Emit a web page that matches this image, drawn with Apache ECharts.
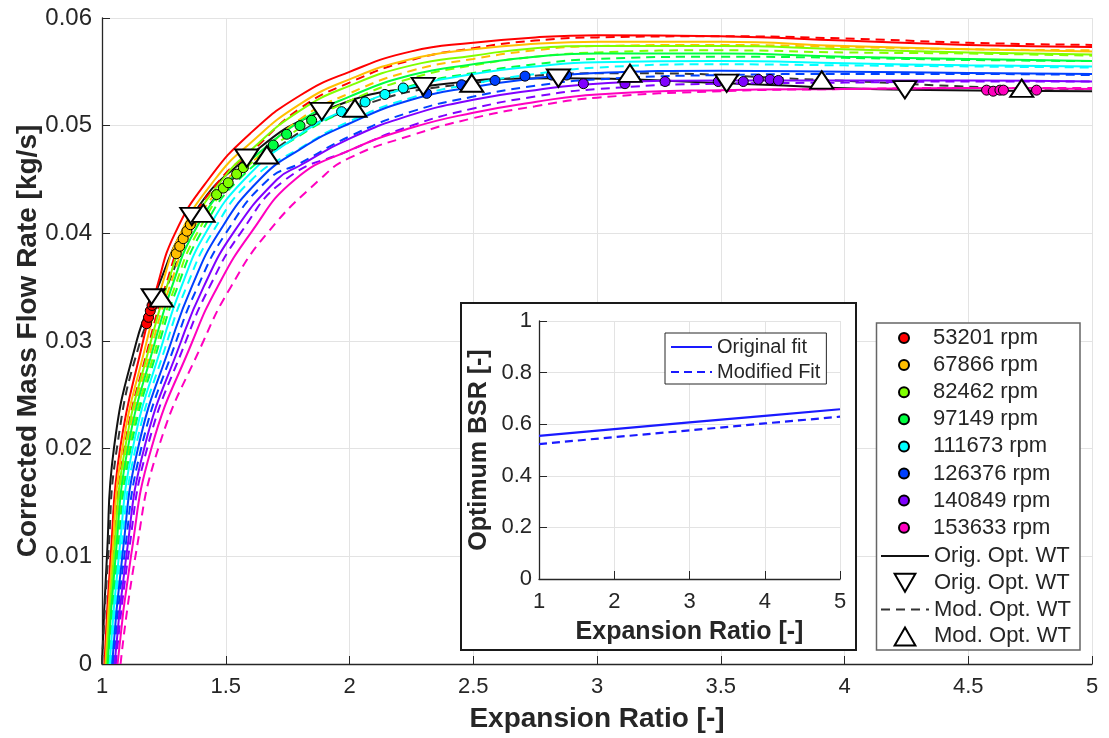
<!DOCTYPE html>
<html><head><meta charset="utf-8">
<script src="https://cdn.jsdelivr.net/npm/echarts@6/dist/echarts.min.js"></script>
<style>html,body{margin:0;padding:0;background:#fff}#c{width:1109px;height:738px}</style>
</head><body><div id="c"></div>
<script>
// ---------------- data ----------------
const speedNames = ['53201 rpm','67866 rpm','82462 rpm','97149 rpm','111673 rpm','126376 rpm','140849 rpm','153633 rpm'];
const speedColors = ['#ff0000','#ffbf00','#80ff00','#00ff40','#00ffff','#0040ff','#8000ff','#ff00bf'];

// rising part: expansion ratio at which each curve reaches these mass-flow levels
const riseMFR = [0, 0.01, 0.02, 0.03, 0.035, 0.04, 0.045];
// flat part: mass flow read at these expansion ratios (null = still on the rising part)
const plateauER = [1.6, 1.8, 2.0, 2.25, 2.5, 2.75, 3.0, 3.5, 4.0, 4.5, 5.0];

const origRiseER = [
  [1.010,1.035,1.073,1.166,1.222,1.295,1.430],
  [1.014,1.041,1.082,1.181,1.240,1.317,1.456],
  [1.018,1.048,1.093,1.198,1.261,1.343,1.487],
  [1.023,1.055,1.104,1.215,1.282,1.369,1.518],
  [1.031,1.068,1.124,1.247,1.320,1.418,1.575],
  [1.041,1.082,1.145,1.281,1.362,1.470,1.637],
  [1.051,1.098,1.170,1.320,1.410,1.529,1.707],
  [1.063,1.117,1.199,1.366,1.466,1.600,1.780]
];
const origPlateauMFR = [
  [0.0493,0.0528,0.0550,0.0569,0.0577,0.0582,0.0584,0.0583,0.0579,0.0575,0.0573],
  [0.0484,0.0520,0.0543,0.0562,0.0571,0.0576,0.0578,0.0578,0.0574,0.0571,0.0569],
  [0.0477,0.0514,0.0537,0.0556,0.0565,0.0572,0.0574,0.0574,0.0571,0.0568,0.0566],
  [0.0468,0.0504,0.0527,0.0547,0.0557,0.0564,0.0567,0.0567,0.0564,0.0562,0.0560],
  [null,0.0492,0.0516,0.0536,0.0548,0.0555,0.0559,0.0560,0.0558,0.0556,0.0555],
  [null,0.0478,0.0502,0.0524,0.0536,0.0544,0.0549,0.0551,0.0550,0.0549,0.0548],
  [null,0.0463,0.0488,0.0510,0.0524,0.0533,0.0539,0.0542,0.0542,0.0542,0.0541],
  [null,null,0.0477,0.0498,0.0512,0.0522,0.0529,0.0533,0.0534,0.0535,0.0534]
];
const modRiseER = [
  [1.017,1.046,1.090,1.193,1.255,1.336,1.478],
  [1.021,1.052,1.099,1.207,1.273,1.358,1.505],
  [1.026,1.059,1.110,1.225,1.294,1.384,1.536],
  [1.028,1.063,1.116,1.234,1.305,1.399,1.553],
  [1.036,1.075,1.135,1.264,1.341,1.444,1.606],
  [1.046,1.090,1.158,1.300,1.386,1.500,1.672],
  [1.056,1.106,1.182,1.339,1.434,1.559,1.742],
  [1.075,1.135,1.227,1.410,1.520,1.667,1.880]
];
const modPlateauMFR = [
  [0.0475,0.0516,0.0540,0.0561,0.0572,0.0579,0.0582,0.0583,0.0581,0.0577,0.0575],
  [0.0465,0.0506,0.0530,0.0551,0.0562,0.0570,0.0574,0.0575,0.0573,0.0571,0.0570],
  [null,0.0498,0.0523,0.0544,0.0556,0.0564,0.0568,0.0570,0.0568,0.0567,0.0565],
  [null,0.0491,0.0515,0.0537,0.0549,0.0557,0.0562,0.0564,0.0563,0.0561,0.0560],
  [null,0.0479,0.0504,0.0526,0.0539,0.0548,0.0554,0.0557,0.0556,0.0555,0.0554],
  [null,0.0465,0.0490,0.0513,0.0527,0.0537,0.0543,0.0547,0.0548,0.0548,0.0547],
  [null,null,0.0477,0.0500,0.0516,0.0527,0.0534,0.0539,0.0540,0.0541,0.0541],
  [null,null,0.0470,0.0491,0.0507,0.0518,0.0526,0.0532,0.0534,0.0535,0.0535]
];

// measured points per speed: [expansion ratio, corrected mass flow]
const measured = [
  [[1.180,0.0316],[1.188,0.0322],[1.195,0.0328],[1.202,0.0333],[1.208,0.0337]],
  [[1.300,0.0381],[1.314,0.0388],[1.328,0.0395],[1.343,0.0402],[1.357,0.0408]],
  [[1.463,0.0436],[1.490,0.0442],[1.510,0.0447],[1.544,0.0455],[1.571,0.0461]],
  [[1.692,0.0482],[1.746,0.0492],[1.800,0.0500],[1.847,0.0505]],
  [[1.968,0.0513],[2.063,0.0522],[2.143,0.0529],[2.217,0.0535]],
  [[2.312,0.0530],[2.453,0.0538],[2.588,0.0542],[2.709,0.0546],[2.817,0.0547],[2.877,0.0547]],
  [[2.945,0.0539],[3.113,0.0539],[3.275,0.0541],[3.490,0.0541],[3.591,0.0541],[3.652,0.0543],[3.699,0.0543],[3.733,0.0542]],
  [[4.574,0.0533],[4.601,0.0532],[4.628,0.0533],[4.642,0.0533],[4.776,0.0533]]
];

// optimum working-line curves and markers
const origOptER  = [1.0, 1.02, 1.048, 1.14, 1.207, 1.363, 1.585, 1.888, 2.298, 2.844, 3.524, 4.244, 5.0];
const origOptMFR = [0, 0.01, 0.02, 0.03, 0.0340, 0.04156, 0.04698, 0.05131, 0.05363, 0.05441, 0.05394, 0.05333, 0.0532];
const modOptER   = [1.0, 1.025, 1.06, 1.155, 1.24, 1.409, 1.666, 2.022, 2.494, 3.133, 3.908, 4.716, 5.0];
const modOptMFR  = [0, 0.01, 0.02, 0.03, 0.0340, 0.04187, 0.04729, 0.05163, 0.05395, 0.05487, 0.05425, 0.05348, 0.0534];
const origMarkER  = [1.207, 1.363, 1.585, 1.888, 2.298, 2.844, 3.524, 4.244];
const origMarkMFR = [0.0340, 0.04156, 0.04698, 0.05131, 0.05363, 0.05441, 0.05394, 0.05333];
const modMarkER   = [1.240, 1.409, 1.666, 2.022, 2.494, 3.133, 3.908, 4.716];
const modMarkMFR  = [0.0340, 0.04187, 0.04729, 0.05163, 0.05395, 0.05487, 0.05425, 0.05348];

// inset: optimum blade speed ratio
const bsrER = [1, 2, 3, 4, 5];
const origBSR = [0.555, 0.581, 0.607, 0.632, 0.658];
const modBSR  = [0.523, 0.550, 0.576, 0.603, 0.629];

const xTicksMain = [1, 5, 0.5];
const yTicksMain = [0, 0.06, 0.01];

// ---------------- build ----------------
const FONT = "'Liberation Sans', Arial, sans-serif";
const INK = '#262626';
const SMOOTH = 0.5;
const zip = (a, b) => a.map((v, i) => [v, b[i]]);
function curve(riseER, platMFR) {
  const pts = riseER.map((x, i) => [x, riseMFR[i]]);
  plateauER.forEach((x, i) => { if (platMFR[i] !== null) pts.push([x, platMFR[i]]); });
  return pts;
}
const TRI_UP = 'path://M5,0 L10,8.66 L0,8.66 Z';
const TRI_DN = 'path://M0,0 L10,0 L5,8.66 Z';
const HIDE = {opacity:0};

const series = [];
series.push({name:'Orig. Opt. WT', type:'line', data: zip(origOptER, origOptMFR), smooth:SMOOTH, symbol:'none',
  itemStyle:HIDE, lineStyle:{color:'#111', width:2}, z:2});
series.push({name:'Mod. Opt. WT', type:'line', data: zip(modOptER, modOptMFR), smooth:SMOOTH, symbol:'none',
  itemStyle:HIDE, lineStyle:{color:'#333', width:2, type:[9,6]}, z:2});
for (let k = 0; k < 8; k++) {
  series.push({type:'line', data: curve(origRiseER[k], origPlateauMFR[k]), smooth:SMOOTH, symbol:'none',
    lineStyle:{color: speedColors[k], width:2}, z:3, silent:true});
  series.push({type:'line', data: curve(modRiseER[k], modPlateauMFR[k]), smooth:SMOOTH, symbol:'none',
    lineStyle:{color: speedColors[k], width:2, type:[9,6]}, z:3, silent:true});
}
for (let k = 0; k < 8; k++) {
  series.push({name: speedNames[k], type:'scatter', data: measured[k], symbol:'circle', symbolSize:10,
    itemStyle:{color: speedColors[k], borderColor:'#000', borderWidth:1, opacity:1}, z:4});
}
series.push({name:'Orig. Opt. WT ', type:'scatter', data: zip(origMarkER, origMarkMFR), symbol: TRI_DN,
  symbolKeepAspect:true, symbolSize:[23,20], itemStyle:{color:'#fff', borderColor:'#000', borderWidth:2, opacity:1}, z:4});
series.push({name:'Mod. Opt. WT ', type:'scatter', data: zip(modMarkER, modMarkMFR), symbol: TRI_UP,
  symbolKeepAspect:true, symbolSize:[23,20], itemStyle:{color:'#fff', borderColor:'#000', borderWidth:2, opacity:1}, z:4});
series.push({name:'Original fit', type:'line', xAxisIndex:1, yAxisIndex:1, data: zip(bsrER, origBSR), symbol:'none',
  itemStyle:HIDE, lineStyle:{color:'#1a1aff', width:2.2}, z:8});
series.push({name:'Modified Fit', type:'line', xAxisIndex:1, yAxisIndex:1, data: zip(bsrER, modBSR), symbol:'none',
  itemStyle:HIDE, lineStyle:{color:'#1a1aff', width:2.2, type:[8,5]}, z:8});

const axisCommon = {
  nameMoveOverlap:false,
  axisLine:{show:true, lineStyle:{color:INK, width:1.3}},
  axisTick:{show:true, inside:true, length:8, lineStyle:{color:INK}},
  splitLine:{show:true, lineStyle:{color:'#e3e3e3', width:1}},
};

const option = {
  animation:false,
  backgroundColor:'#fff',
  textStyle:{fontFamily:FONT, color:INK},
  grid:[
    {left:102, top:18, width:990, height:647},
    {left:539, top:321, width:301, height:258, z:6}
  ],
  xAxis:[
    Object.assign({type:'value', gridIndex:0, min:xTicksMain[0], max:xTicksMain[1], interval:xTicksMain[2],
      name:'Expansion Ratio [-]', nameLocation:'middle', nameGap:41,
      nameTextStyle:{fontFamily:FONT, fontSize:28, fontWeight:'bold', color:INK},
      axisLabel:{fontFamily:FONT, fontSize:22, color:INK, margin:12}}, axisCommon),
    Object.assign({type:'value', gridIndex:1, min:1, max:5, interval:1, z:6,
      name:'Expansion Ratio [-]', nameLocation:'middle', nameGap:41,
      nameTextStyle:{fontFamily:FONT, fontSize:25, fontWeight:'bold', color:INK},
      axisLabel:{fontFamily:FONT, fontSize:22, color:INK, margin:12}}, axisCommon)
  ],
  yAxis:[
    Object.assign({type:'value', gridIndex:0, min:yTicksMain[0], max:yTicksMain[1], interval:yTicksMain[2],
      name:'Corrected Mass Flow Rate [kg/s]', nameLocation:'middle', nameGap:60,
      nameTextStyle:{fontFamily:FONT, fontSize:28, fontWeight:'bold', color:INK},
      axisLabel:{fontFamily:FONT, fontSize:24, color:INK, margin:10, formatter: v => String(+v.toFixed(2))}}, axisCommon),
    Object.assign({type:'value', gridIndex:1, min:0, max:1, interval:0.2, z:6,
      name:'Optimum BSR [-]', nameLocation:'middle', nameGap:47,
      nameTextStyle:{fontFamily:FONT, fontSize:25, fontWeight:'bold', color:INK},
      axisLabel:{fontFamily:FONT, fontSize:22, color:INK, margin:7, formatter: v => String(+v.toFixed(1))}}, axisCommon)
  ],
  legend:[
    {data: speedNames, orient:'vertical', left:898, top:327, padding:0, itemWidth:48, itemHeight:10, itemGap:5.1,
      textStyle:{fontFamily:FONT, fontSize:22, lineHeight:22, color:INK}, selectedMode:false, z:6},
    {data:['Orig. Opt. WT','Orig. Opt. WT ','Mod. Opt. WT','Mod. Opt. WT '], orient:'vertical', left:880, top:545,
      padding:0, itemWidth:48, itemHeight:18, itemGap:4.8,
      textStyle:{fontFamily:FONT, fontSize:22, lineHeight:22, color:INK}, selectedMode:false, z:6},
    {data:['Original fit','Modified Fit'], orient:'vertical', left:665, top:333, padding:[4,6,2,5],
      itemWidth:41, itemHeight:12, itemGap:5, backgroundColor:'#fff', borderColor:INK, borderWidth:1,
      textStyle:{fontFamily:FONT, fontSize:20, lineHeight:20, color:INK}, selectedMode:false, z:9}
  ],
  graphic:{elements:[
    {type:'rect', z:5, shape:{x:461, y:303, width:395, height:347}, style:{fill:'#fff', stroke:'#1a1a1a', lineWidth:2}},
    {type:'rect', z:5, shape:{x:876.5, y:323, width:203.5, height:327}, style:{fill:'#fff', stroke:'#666', lineWidth:1.5}}
  ]},
  series: series
};
const chart = echarts.init(document.getElementById('c'), null, {renderer:'canvas'});
chart.setOption(option);
</script></body></html>
